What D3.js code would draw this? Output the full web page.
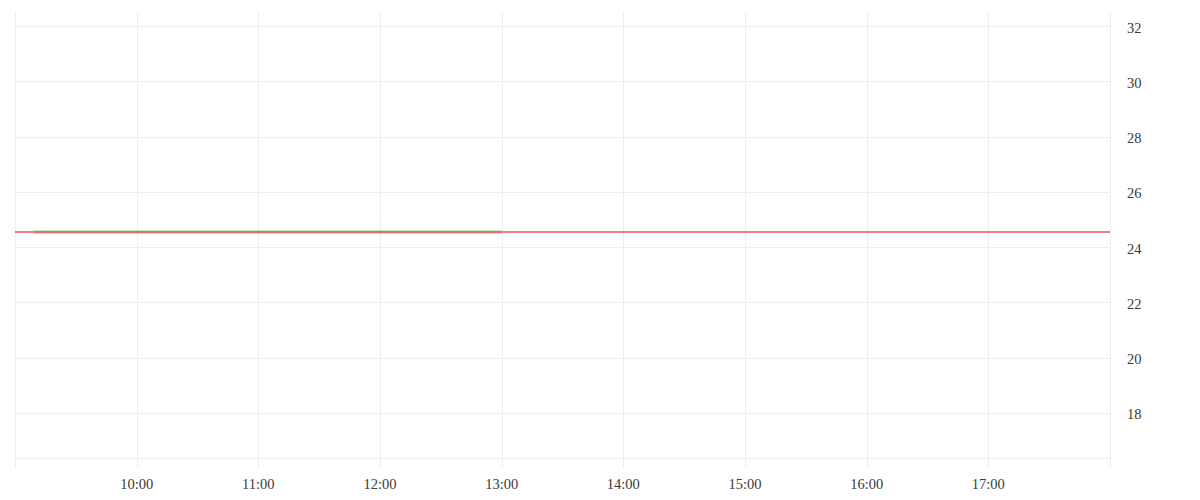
<!DOCTYPE html>
<html lang="en">
<head>
    <meta charset="UTF-8">
    <script src="https://d3js.org/d3.v7.min.js"></script>
    <title>Chart</title>
    <style>
        body { margin: 0; background: #fff; }
        text { font-family: "Liberation Serif", serif; font-size: 14.5px; fill: #3a3a3a; }
    </style>
</head>
<body>
    <svg width="1200" height="500" id="chart"></svg>
    <script type="text/javascript">
      // series: flat value from ~9:09 to 13:00
      var times = ["09:09", "10:00", "11:00", "12:00", "13:00"];
      var values = [24.55, 24.55, 24.55, 24.55, 24.55];
      var refValue = 24.55;
      var xTickLabels = ["10:00", "11:00", "12:00", "13:00", "14:00", "15:00", "16:00", "17:00"];
      var yTicks = [18, 20, 22, 24, 26, 28, 30, 32];

      var parse = d3.timeParse("%H:%M");
      var plotLeft = 15, plotRight = 1110, plotTop = 12, plotBottom = 458;

      var x = d3.scaleTime()
        .domain([parse("09:00"), parse("18:00")])
        .range([plotLeft, plotRight]);
      var y = d3.scaleLinear()
        .domain([16.37, 32.51])
        .range([plotBottom, plotTop]);

      var svg = d3.select("#chart");
      var grid = "#eeeeee";

      // horizontal grid
      svg.append("g").selectAll("line").data(yTicks.concat([16.37])).join("line")
        .attr("x1", plotLeft).attr("x2", plotRight)
        .attr("y1", function(d) { return Math.round(y(d)) + 0.5; })
        .attr("y2", function(d) { return Math.round(y(d)) + 0.5; })
        .attr("stroke", grid);

      // vertical grid with ticks below
      var xTicks = xTickLabels.map(function(t) { return parse(t); });
      svg.append("g").selectAll("line")
        .data([parse("09:00")].concat(xTicks, [parse("18:00")])).join("line")
        .attr("x1", function(d) { return Math.round(x(d)) + 0.5; })
        .attr("x2", function(d) { return Math.round(x(d)) + 0.5; })
        .attr("y1", plotTop).attr("y2", plotBottom + 10)
        .attr("stroke", grid);

      // x labels
      svg.append("g").selectAll("text").data(xTickLabels).join("text")
        .attr("x", function(d) { return x(parse(d)); })
        .attr("y", 489)
        .attr("text-anchor", "middle")
        .text(function(d) { return d; });

      // y labels on the right
      svg.append("g").selectAll("text").data(yTicks).join("text")
        .attr("x", 1127)
        .attr("y", function(d) { return y(d); })
        .attr("dy", "0.45em")
        .text(function(d) { return d; });

      // series line
      var pts = times.map(function(t, i) { return [parse(t), values[i]]; });
      svg.append("path")
        .datum(pts)
        .attr("fill", "none")
        .attr("stroke", "#66bb6a")
        .attr("stroke-opacity", 0.5)
        .attr("stroke-width", 3.5)
        .attr("d", d3.line()
          .x(function(d) { return x(d[0]); })
          .y(function(d) { return y(d[1]); }));

      // reference line
      svg.append("line")
        .attr("x1", plotLeft).attr("x2", plotRight)
        .attr("y1", y(refValue)).attr("y2", y(refValue))
        .attr("stroke", "#f44f5a")
        .attr("stroke-width", 1.5);
    </script>
</body>
</html>
